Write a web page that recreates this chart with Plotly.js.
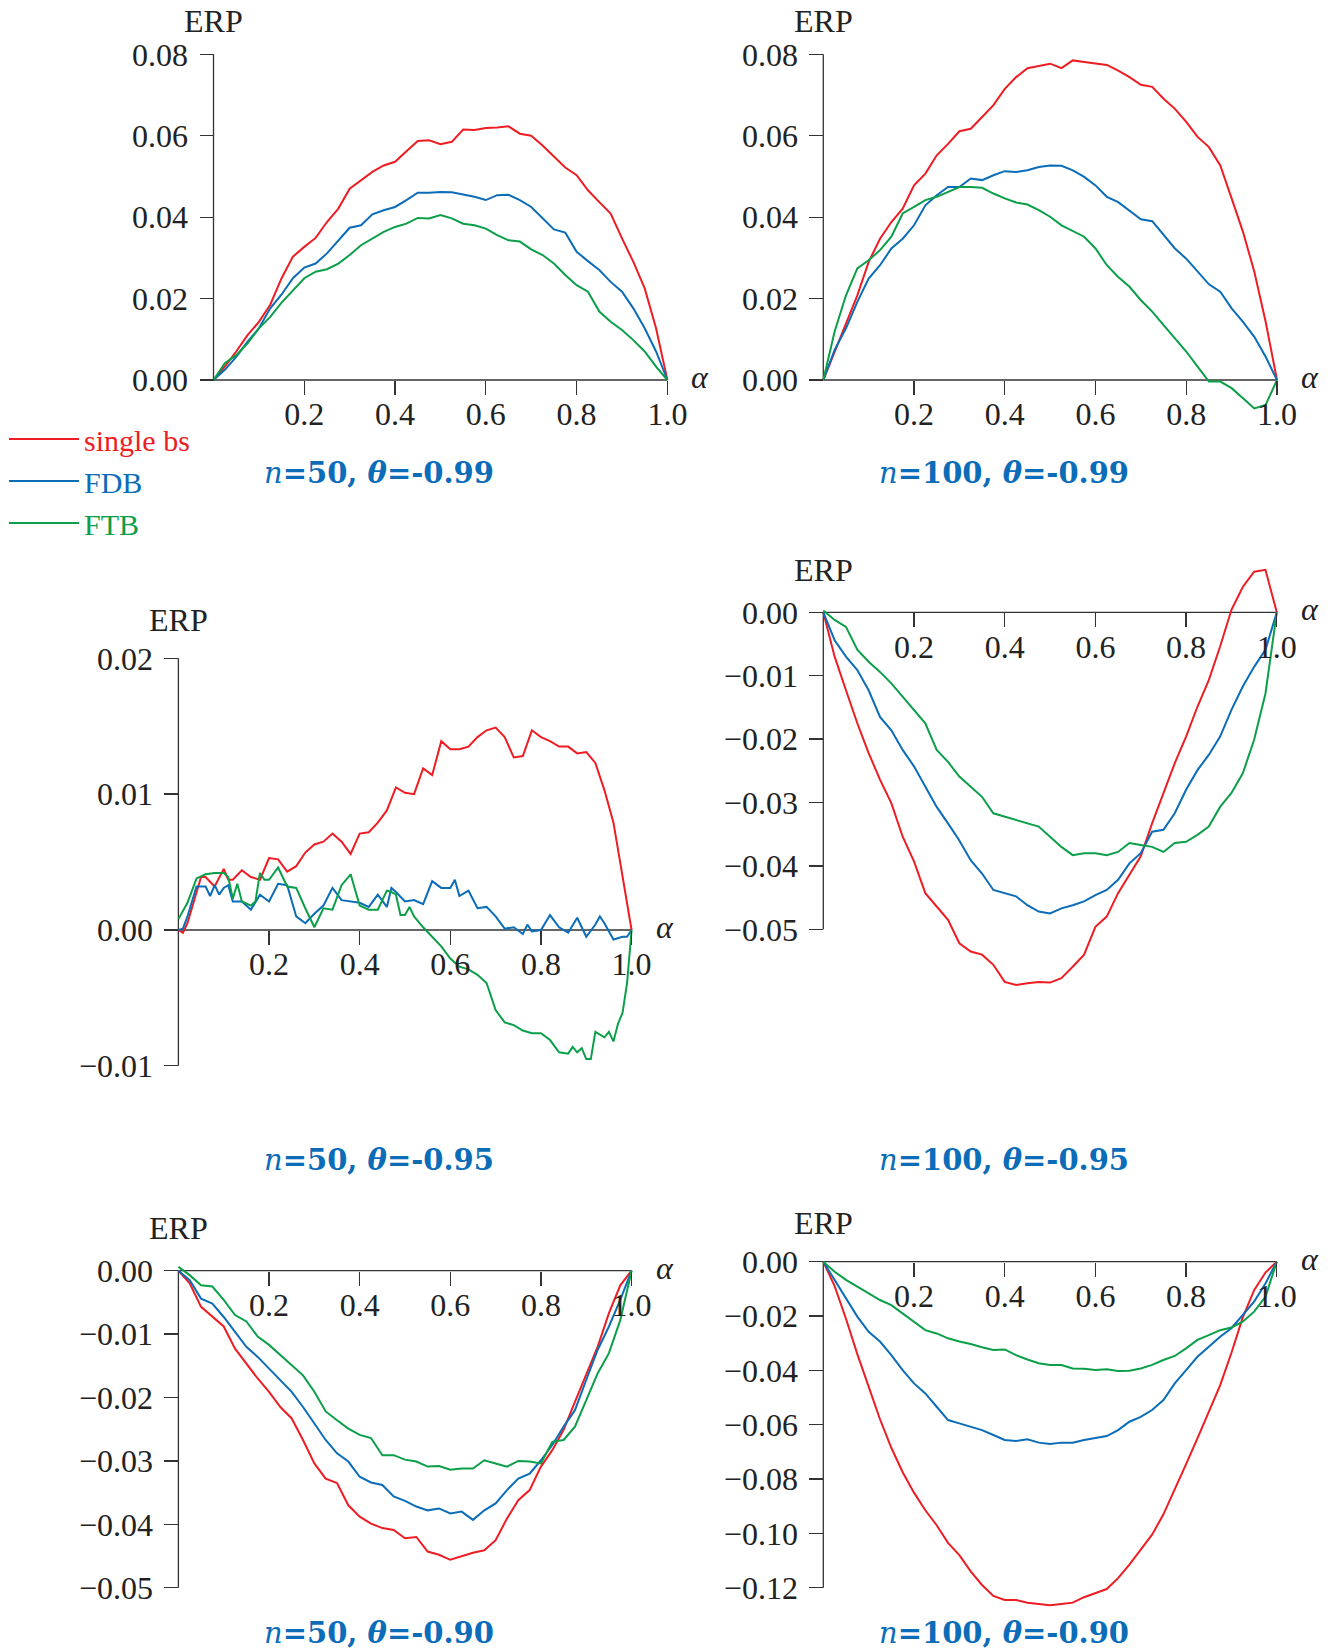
<!DOCTYPE html>
<html>
<head>
<meta charset="utf-8">
<script src="https://cdn.plot.ly/plotly-3.0.1.min.js"></script>
<style>html,body{margin:0;padding:0;background:#fff;}#chart{width:1335px;height:1651px;}</style>
</head>
<body>
<div id="chart"></div>
<script>
// ---------------- DATA ----------------
const seriesNames = ['single bs', 'FDB', 'FTB'];
const subtitles = ['n=50, θ=-0.99', 'n=100, θ=-0.99', 'n=50, θ=-0.95', 'n=100, θ=-0.95', 'n=50, θ=-0.90', 'n=100, θ=-0.90'];
const alphaGrid = [0,0.025,0.05,0.075,0.1,0.125,0.15,0.175,0.2,0.225,0.25,0.275,0.3,0.325,0.35,0.375,0.4,0.425,0.45,0.475,0.5,0.525,0.55,0.575,0.6,0.625,0.65,0.675,0.7,0.725,0.75,0.775,0.8,0.825,0.85,0.875,0.9,0.925,0.95,0.975,1.0];
const xTickVals = [0.2,0.4,0.6,0.8,1.0];
const xTickText = ['0.2','0.4','0.6','0.8','1.0'];

// panel 1: n=50, theta=-0.99
const p1Single = [0,0.0033,0.007,0.011,0.0143,0.0185,0.025,0.0303,0.0327,0.0349,0.0388,0.0421,0.047,0.0491,0.0511,0.0527,0.0536,0.0562,0.0587,0.0589,0.0579,0.0585,0.0615,0.0614,0.0619,0.062,0.0623,0.0605,0.06,0.0576,0.055,0.0522,0.0503,0.0466,0.0437,0.0409,0.0348,0.029,0.0225,0.0127,0];
const p1FDB = [0,0.0025,0.0057,0.0094,0.0127,0.0176,0.0210,0.025,0.0276,0.0286,0.0311,0.0343,0.0374,0.038,0.0407,0.0417,0.0425,0.0442,0.046,0.046,0.0462,0.0461,0.0456,0.045,0.0442,0.0454,0.0455,0.0442,0.0425,0.0397,0.037,0.0362,0.0315,0.0292,0.027,0.0241,0.0217,0.0176,0.0127,0.007,0];
const p1FTB = [0,0.0041,0.0061,0.009,0.0127,0.0155,0.019,0.0221,0.025,0.0266,0.0272,0.0286,0.0307,0.0331,0.0348,0.0364,0.0376,0.0384,0.0398,0.0397,0.0405,0.0397,0.0384,0.038,0.0372,0.0356,0.0343,0.034,0.0321,0.0307,0.0286,0.0258,0.0233,0.0217,0.0168,0.0143,0.0123,0.0098,0.007,0.0033,0];
const p1YTicks = [0,0.02,0.04,0.06,0.08];
const p1YText = ['0.00','0.02','0.04','0.06','0.08'];

// panel 2: n=100, theta=-0.99
const p2Single = [0,0.007,0.0135,0.0208,0.029,0.0347,0.0388,0.0421,0.0478,0.0507,0.0552,0.058,0.0611,0.0617,0.0646,0.0675,0.0715,0.0744,0.0766,0.0771,0.0777,0.0766,0.0785,0.0781,0.0777,0.0774,0.076,0.0744,0.0725,0.072,0.0691,0.0666,0.0634,0.0597,0.0572,0.0527,0.0446,0.0364,0.0266,0.0143,0];
const p2FDB = [0,0.0074,0.0127,0.0192,0.0249,0.0282,0.0323,0.0347,0.038,0.0429,0.0454,0.0474,0.0474,0.0495,0.0491,0.0503,0.0513,0.0511,0.0515,0.0523,0.0527,0.0526,0.0515,0.0499,0.0478,0.045,0.0437,0.0417,0.0395,0.039,0.0356,0.0323,0.0298,0.0266,0.0235,0.0217,0.0176,0.0143,0.0106,0.0057,0];
const p2FTB = [0,0.0119,0.0208,0.0274,0.0294,0.0319,0.0352,0.0409,0.0425,0.0442,0.045,0.0462,0.0474,0.0474,0.0472,0.0458,0.0446,0.0436,0.0431,0.0417,0.0401,0.038,0.0366,0.0352,0.0323,0.0282,0.0253,0.0229,0.0196,0.0168,0.0135,0.0102,0.007,0.0033,-0.0004,-0.0004,-0.002,-0.0045,-0.007,-0.0061,0];
const p2YTicks = [0,0.02,0.04,0.06,0.08];
const p2YText = ['0.00','0.02','0.04','0.06','0.08'];

// panel 3: n=50, theta=-0.95
const p3SingleX = [0,0.01,0.02,0.04,0.05,0.06,0.08,0.1,0.11,0.12,0.14,0.16,0.18,0.2,0.22,0.24,0.26,0.28,0.3,0.32,0.34,0.36,0.38,0.4,0.42,0.44,0.46,0.48,0.5,0.52,0.54,0.56,0.58,0.6,0.62,0.64,0.66,0.68,0.7,0.72,0.74,0.76,0.78,0.8,0.82,0.84,0.86,0.88,0.9,0.92,0.94,0.96,0.98,1.0];
const p3Single = [0,-0.0002,0.0005,0.0029,0.0039,0.0039,0.0032,0.0045,0.0037,0.0037,0.0044,0.0039,0.0037,0.0053,0.0052,0.0043,0.0047,0.0057,0.0063,0.0065,0.0071,0.0065,0.0056,0.0071,0.0072,0.0079,0.0088,0.0105,0.0101,0.01,0.0119,0.0114,0.0139,0.0133,0.0133,0.0135,0.0142,0.0147,0.0149,0.0142,0.0127,0.0128,0.0147,0.0142,0.0139,0.0135,0.0135,0.013,0.0131,0.0123,0.0103,0.0079,0.0039,0];
const p3FDBX = [0,0.01,0.02,0.04,0.06,0.07,0.08,0.09,0.1,0.11,0.12,0.14,0.16,0.18,0.2,0.22,0.24,0.26,0.28,0.3,0.32,0.34,0.36,0.38,0.4,0.42,0.44,0.46,0.47,0.48,0.5,0.52,0.54,0.56,0.58,0.6,0.61,0.62,0.64,0.66,0.68,0.7,0.72,0.74,0.76,0.77,0.78,0.8,0.82,0.84,0.86,0.88,0.9,0.92,0.93,0.94,0.96,0.98,0.99,1.0];
const p3FDB = [0,0.0001,0.001,0.0032,0.0032,0.0025,0.0033,0.0026,0.0031,0.0033,0.0021,0.0021,0.0015,0.0026,0.0021,0.0034,0.0033,0.001,0.0005,0.0012,0.0018,0.0031,0.0022,0.0021,0.002,0.0017,0.0026,0.0017,0.0031,0.0028,0.0021,0.0022,0.0019,0.0036,0.0031,0.0031,0.0037,0.0025,0.0029,0.0016,0.0017,0.001,0.0001,0.0002,-0.0003,0.0004,-0.0001,0.0,0.0011,0.0002,-0.0002,0.0009,-0.0005,0.0004,0.001,0.0005,-0.0007,-0.0005,-0.0005,0];
const p3FTBX = [0,0.02,0.04,0.06,0.08,0.1,0.11,0.12,0.13,0.14,0.16,0.17,0.18,0.19,0.2,0.22,0.24,0.26,0.28,0.3,0.32,0.34,0.36,0.38,0.4,0.42,0.44,0.46,0.47,0.48,0.49,0.5,0.51,0.52,0.54,0.56,0.58,0.6,0.62,0.64,0.66,0.68,0.7,0.72,0.74,0.76,0.78,0.8,0.82,0.84,0.86,0.87,0.88,0.89,0.9,0.91,0.92,0.94,0.95,0.96,0.97,0.98,0.99,1.0];
const p3FTB = [0.0008,0.002,0.0038,0.0041,0.0042,0.0042,0.0039,0.0023,0.0034,0.0021,0.0018,0.0021,0.0042,0.0037,0.0037,0.0046,0.0032,0.0031,0.0016,0.0002,0.0016,0.0015,0.0033,0.0041,0.0018,0.0015,0.0015,0.0029,0.0028,0.0026,0.0011,0.0011,0.0017,0.001,0.0002,-0.0005,-0.0012,-0.0021,-0.0027,-0.0029,-0.0033,-0.0039,-0.0059,-0.0068,-0.007,-0.0074,-0.0076,-0.0076,-0.0081,-0.009,-0.0091,-0.0086,-0.009,-0.0087,-0.0095,-0.0095,-0.0075,-0.0079,-0.0075,-0.0082,-0.0069,-0.0061,-0.0039,0];
const p3YTicks = [-0.01,0,0.01,0.02];
const p3YText = ['\u22120.01','0.00','0.01','0.02'];

// panel 4: n=100, theta=-0.95
const p4Single = [0,-0.007,-0.0123,-0.0175,-0.0222,-0.0264,-0.0301,-0.0354,-0.0393,-0.0443,-0.0464,-0.0485,-0.0522,-0.0535,-0.054,-0.0556,-0.0583,-0.0588,-0.0585,-0.0583,-0.0584,-0.0577,-0.0559,-0.054,-0.0496,-0.048,-0.0443,-0.0414,-0.0385,-0.0333,-0.0285,-0.0238,-0.0196,-0.0149,-0.0107,-0.0054,0.0004,0.004,0.0064,0.0067,0];
const p4FDB = [0,-0.0044,-0.007,-0.0091,-0.0123,-0.0165,-0.0186,-0.0217,-0.0243,-0.0275,-0.0307,-0.0333,-0.036,-0.0391,-0.0412,-0.0438,-0.0443,-0.0448,-0.0462,-0.0472,-0.0475,-0.0467,-0.0462,-0.0456,-0.0446,-0.0438,-0.0422,-0.0396,-0.038,-0.0346,-0.0343,-0.0317,-0.028,-0.0249,-0.0225,-0.0196,-0.0154,-0.0117,-0.0086,-0.0059,0];
const p4FTB = [0.0003,-0.0012,-0.0023,-0.0059,-0.0078,-0.0094,-0.0112,-0.0133,-0.0154,-0.0175,-0.0217,-0.0236,-0.0259,-0.0275,-0.0291,-0.0317,-0.0322,-0.0328,-0.0333,-0.0338,-0.0354,-0.037,-0.0383,-0.038,-0.038,-0.0383,-0.0378,-0.0364,-0.0367,-0.037,-0.0378,-0.0364,-0.0362,-0.0351,-0.0338,-0.0307,-0.0285,-0.0254,-0.0201,-0.0128,0];
const p4YTicks = [-0.05,-0.04,-0.03,-0.02,-0.01,0];
const p4YText = ['\u22120.05','\u22120.04','\u22120.03','\u22120.02','\u22120.01','0.00'];

// panel 5: n=50, theta=-0.90
const p5Single = [0,-0.002,-0.0057,-0.0073,-0.0088,-0.0123,-0.0146,-0.017,-0.0191,-0.0215,-0.0233,-0.0267,-0.0304,-0.0328,-0.0335,-0.037,-0.0388,-0.0399,-0.0406,-0.0409,-0.0422,-0.042,-0.0443,-0.0448,-0.0456,-0.045,-0.0445,-0.0441,-0.0425,-0.0391,-0.0362,-0.0346,-0.0309,-0.0283,-0.0251,-0.0207,-0.0165,-0.012,-0.0067,-0.0023,0];
const p5FDB = [0,-0.0015,-0.0044,-0.0052,-0.0073,-0.0096,-0.012,-0.0136,-0.0154,-0.0172,-0.0191,-0.0215,-0.0241,-0.0267,-0.0288,-0.0301,-0.0325,-0.0334,-0.0338,-0.0356,-0.0363,-0.0372,-0.0378,-0.0375,-0.0383,-0.038,-0.0393,-0.0378,-0.0367,-0.0346,-0.0328,-0.032,-0.0299,-0.0275,-0.0246,-0.022,-0.0172,-0.0125,-0.0088,-0.0046,0];
const p5FTB = [0.0006,-0.0007,-0.0023,-0.0025,-0.0046,-0.007,-0.008,-0.0104,-0.0117,-0.0133,-0.0149,-0.0165,-0.0191,-0.0222,-0.0236,-0.0249,-0.0259,-0.0264,-0.0291,-0.0291,-0.0298,-0.0301,-0.0309,-0.0308,-0.0314,-0.0312,-0.0312,-0.0299,-0.0304,-0.0309,-0.03,-0.0301,-0.0304,-0.027,-0.0267,-0.0246,-0.0204,-0.0162,-0.013,-0.0078,0];
const p5YTicks = [-0.05,-0.04,-0.03,-0.02,-0.01,0];
const p5YText = ['\u22120.05','\u22120.04','\u22120.03','\u22120.02','\u22120.01','0.00'];

// panel 6: n=100, theta=-0.90
const p6Single = [0,-0.009,-0.021,-0.034,-0.046,-0.058,-0.0685,-0.0775,-0.085,-0.0915,-0.097,-0.1035,-0.108,-0.114,-0.119,-0.123,-0.1245,-0.1245,-0.1255,-0.126,-0.1265,-0.126,-0.1255,-0.1235,-0.122,-0.1205,-0.1165,-0.1115,-0.106,-0.1005,-0.093,-0.084,-0.0745,-0.065,-0.0555,-0.0455,-0.0335,-0.0205,-0.0105,-0.004,0];
const p6FDB = [0,-0.0067,-0.0135,-0.0202,-0.0258,-0.0294,-0.0344,-0.0399,-0.0448,-0.0485,-0.0534,-0.0583,-0.0595,-0.0607,-0.062,-0.0638,-0.0656,-0.066,-0.0654,-0.0666,-0.0671,-0.0666,-0.0666,-0.0656,-0.065,-0.0642,-0.062,-0.0589,-0.0571,-0.0546,-0.0509,-0.0448,-0.0399,-0.035,-0.0313,-0.0276,-0.0245,-0.0196,-0.0147,-0.008,0];
const p6FTB = [0,-0.0037,-0.0067,-0.0092,-0.0117,-0.0141,-0.016,-0.019,-0.0221,-0.0252,-0.0264,-0.0282,-0.0294,-0.0303,-0.0315,-0.0325,-0.0323,-0.0344,-0.036,-0.0374,-0.038,-0.038,-0.0393,-0.0394,-0.0399,-0.0396,-0.0402,-0.0401,-0.0393,-0.038,-0.0362,-0.0347,-0.0319,-0.0288,-0.027,-0.0252,-0.0242,-0.0221,-0.0184,-0.0129,0];
const p6YTicks = [-0.12,-0.10,-0.08,-0.06,-0.04,-0.02,0];
const p6YText = ['\u22120.12','\u22120.10','\u22120.08','\u22120.06','\u22120.04','\u22120.02','0.00'];

// ---------------- STYLE / LAYOUT ----------------
const W = 1335, H = 1651;
const COLORS = ['#ee1d23', '#0b6cb8', '#0a9f48'];
const TXT = '#222222';
const AXC = '#333333';
const SERIF = 'Liberation Serif';
const BOLDSERIF = 'DejaVu Serif';

const panels = [
  {x:[alphaGrid,alphaGrid,alphaGrid], y:[p1Single,p1FDB,p1FTB], yt:p1YTicks, ytt:p1YText,
   px0:213.5, px1:667.4, yv0:0, yp0:380.0, yv1:0.08, yp1:54.3, yr:[-0.0008,0.0812], ax:[0,0.08],
   erp:33, sx:378.5, sy:473},
  {x:[alphaGrid,alphaGrid,alphaGrid], y:[p2Single,p2FDB,p2FTB], yt:p2YTicks, ytt:p2YText,
   px0:823.3, px1:1277.0, yv0:0, yp0:380.0, yv1:0.08, yp1:54.3, yr:[-0.0085,0.0812], ax:[0,0.08],
   erp:33, sx:1003.5, sy:473},
  {x:[p3SingleX,p3FDBX,p3FTBX], y:[p3Single,p3FDB,p3FTB], yt:p3YTicks, ytt:p3YText,
   px0:178.4, px1:631.6, yv0:0, yp0:930.0, yv1:0.02, yp1:658.3, yr:[-0.0105,0.0205], ax:[-0.01,0.02],
   erp:38, sx:378.5, sy:1160},
  {x:[alphaGrid,alphaGrid,alphaGrid], y:[p4Single,p4FDB,p4FTB], yt:p4YTicks, ytt:p4YText,
   px0:823.3, px1:1276.8, yv0:0, yp0:612.3, yv1:-0.05, yp1:929.3, yr:[-0.0605,0.0078], ax:[-0.05,0],
   erp:42, sx:1003.5, sy:1160},
  {x:[alphaGrid,alphaGrid,alphaGrid], y:[p5Single,p5FDB,p5FTB], yt:p5YTicks, ytt:p5YText,
   px0:178.4, px1:631.6, yv0:0, yp0:1270.7, yv1:-0.05, yp1:1587.7, yr:[-0.0505,0.0012], ax:[-0.05,0],
   erp:43, sx:378.5, sy:1633},
  {x:[alphaGrid,alphaGrid,alphaGrid], y:[p6Single,p6FDB,p6FTB], yt:p6YTicks, ytt:p6YText,
   px0:823.3, px1:1276.8, yv0:0, yp0:1261.7, yv1:-0.12, yp1:1587.7, yr:[-0.1275,0.0012], ax:[-0.12,0],
   erp:39, sx:1003.5, sy:1633}
];

const XR = [-0.004, 1.004];
const traces = [];
const layout = {
  width: W, height: H,
  margin: {l:0, r:0, t:0, b:0},
  paper_bgcolor: '#ffffff', plot_bgcolor: 'rgba(0,0,0,0)',
  showlegend: true,
  legend: {
    x: 4/W, y: 1 - 413/H, xanchor: 'left', yanchor: 'top',
    bgcolor: 'rgba(0,0,0,0)', borderwidth: 0,
    itemwidth: 70, tracegroupgap: 0,
    font: {family: SERIF, size: 30, color: TXT}
  },
  shapes: [], annotations: []
};

panels.forEach((p, i) => {
  const n = i + 1;
  const xa = 'x' + (n === 1 ? '' : n), ya = 'y' + (n === 1 ? '' : n);
  const xk = 'xaxis' + (n === 1 ? '' : n), yk = 'yaxis' + (n === 1 ? '' : n);
  const ys = (p.yp1 - p.yp0) / (p.yv1 - p.yv0);
  const ypix = v => p.yp0 + (v - p.yv0) * ys;
  const xpix = v => p.px0 + v * (p.px1 - p.px0);
  const dY = [1 - ypix(p.yr[0]) / H, 1 - ypix(p.yr[1]) / H];
  const dX = [xpix(XR[0]) / W, xpix(XR[1]) / W];

  for (let s = 0; s < 3; s++) {
    traces.push({
      type: 'scatter', mode: 'lines',
      x: p.x[s], y: p.y[s],
      xaxis: xa, yaxis: ya,
      name: '<span style="color:' + COLORS[s] + '">' + seriesNames[s] + '</span>',
      legendgroup: seriesNames[s],
      showlegend: n === 1,
      line: {color: COLORS[s], width: 2},
      hoverinfo: 'skip'
    });
  }

  layout[xk] = {
    domain: dX, range: XR, anchor: 'free', position: 1 - ypix(0) / H,
    showgrid: false, zeroline: false, showline: false,
    tickmode: 'array', tickvals: xTickVals, ticktext: xTickText,
    ticks: 'outside', ticklen: 14, tickwidth: 1.3, tickcolor: AXC,
    ticklabelstandoff: -8,
    tickfont: {family: SERIF, size: 32, color: TXT}
  };
  layout[yk] = {
    domain: dY, range: p.yr, anchor: 'free', position: xpix(0) / W,
    showgrid: false, zeroline: false, showline: false,
    tickmode: 'array', tickvals: p.yt, ticktext: p.ytt,
    ticks: 'outside', ticklen: 14, tickwidth: 1.3, tickcolor: AXC,
    ticklabelstandoff: 5,
    tickfont: {family: SERIF, size: 32, color: TXT}
  };

  // axis lines
  layout.shapes.push({type:'line', xref: xa, yref: ya, x0: 0, x1: 0, y0: p.ax[0], y1: p.ax[1],
    line: {color: AXC, width: 1.3}, layer: 'below'});
  layout.shapes.push({type:'line', xref: xa, yref: ya, x0: 0, x1: 1, y0: 0, y1: 0,
    line: {color: AXC, width: 1.3}, layer: 'below'});

  // ERP label above y-axis
  layout.annotations.push({xref: xa, yref: ya, x: 0, y: p.ax[1], yshift: p.erp,
    text: 'ERP', showarrow: false, xanchor: 'center', yanchor: 'middle',
    font: {family: SERIF, size: 32, color: TXT}});
  // alpha label at end of x-axis
  layout.annotations.push({xref: xa, yref: ya, x: 1, y: 0, xshift: 33, yshift: 3,
    text: '<i>α</i>', showarrow: false, xanchor: 'center', yanchor: 'middle',
    font: {family: SERIF, size: 32, color: TXT}});
  // subtitle
  const parts = subtitles[i].match(/^n=(\S+), θ=(\S+)$/);
  layout.annotations.push({xref: 'paper', yref: 'paper', x: p.sx / W, y: 1 - p.sy / H,
    text: '<i>n</i><b>=' + parts[1] + ', <i>θ</i>=' + parts[2] + '</b>',
    showarrow: false, xanchor: 'center', yanchor: 'middle',
    font: {family: BOLDSERIF, size: 29, color: COLORS[1]}});
});

Plotly.newPlot('chart', traces, layout, {displayModeBar: false, staticPlot: true});
</script>
</body>
</html>
